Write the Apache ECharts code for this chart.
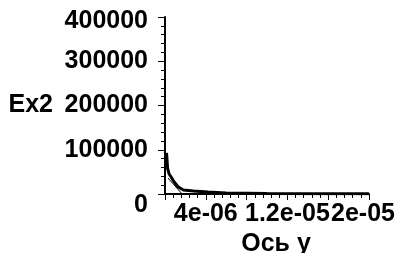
<!DOCTYPE html>
<html>
<head>
<meta charset="utf-8">
<script src="https://cdn.jsdelivr.net/npm/echarts@6/dist/echarts.min.js"></script>
<style>
  html, body { margin: 0; padding: 0; background: #fff; }
  #main { width: 404px; height: 253px; }
</style>
</head>
<body>
<div id="main"></div>
<script>
// кривая Ex2 по оси y
var xVals = [0.15e-6, 0.2e-6, 0.25e-6, 0.4e-6, 0.6e-6, 0.9e-6, 1.3e-6, 1.8e-6, 2.8e-6, 4.2e-6, 6e-6, 1e-5, 1.5e-5, 2e-5];
var ex2Vals = [92700, 76800, 58700, 45200, 38400, 27100, 15800, 9000, 6800, 4500, 2300, 1100, 700, 450];
// тонкая линия у начала
var thinX = [0.3e-6, 1.6e-6];
var thinY = [36000, 2000];

var xTickLabels = ['4e-06', '1.2e-05', '2e-05'];
var yTickLabels = ['0', '100000', '200000', '300000', '400000'];

var font = { fontFamily: 'Liberation Sans', fontWeight: 'bold', fontSize: 25, color: '#000' };

function pairs(xs, ys) {
  return xs.map(function (x, i) { return [x, ys[i]]; });
}

function fmtX(v) {
  for (var i = 0; i < xTickLabels.length; i++) {
    if (Math.abs(Number(xTickLabels[i]) - v) < 1e-9) {
      if (i === xTickLabels.length - 1) return '{last|' + xTickLabels[i] + '}';
      return xTickLabels[i];
    }
  }
  return '';
}

function fmtY(v) {
  var s = String(v);
  if (yTickLabels.indexOf(s) < 0) return '';
  if (s === '0') return '{zero|0}';
  if (s === '400000') return '{top|400000}';
  return s;
}

var chart = echarts.init(document.getElementById('main'), null, { renderer: 'canvas' });
chart.setOption({
  animation: false,
  backgroundColor: '#fff',
  grid: { left: 165, right: 35, top: 17, bottom: 59, containLabel: false, outerBoundsMode: 'none' },
  xAxis: {
    type: 'value', min: 0, max: 2e-5, interval: 4e-6,
    name: 'Ось y', nameLocation: 'middle', nameGap: 34,
    nameTextStyle: Object.assign({ padding: [0, 0, 0, 18] }, font),
    axisLine: { lineStyle: { color: '#000', width: 2 } },
    axisTick: { show: true, length: 6, lineStyle: { color: '#000', width: 1 } },
    minorTick: { show: true, splitNumber: 5, length: 4, lineStyle: { color: '#000', width: 1 } },
    splitLine: { show: false },
    axisLabel: Object.assign({
      margin: 8, formatter: fmtX, showMinLabel: true, showMaxLabel: true, hideOverlap: false,
      rich: { last: Object.assign({ padding: [0, 12, 0, 0] }, font) }
    }, font)
  },
  yAxis: {
    type: 'value', min: 0, max: 400000, interval: 100000,
    name: 'Ex2', nameLocation: 'middle', nameRotate: 0, nameGap: 112,
    nameTextStyle: font,
    axisLine: { show: true, lineStyle: { color: '#000', width: 2 } },
    axisTick: { show: true, length: 7, lineStyle: { color: '#000', width: 1 } },
    minorTick: { show: true, splitNumber: 5, length: 4, lineStyle: { color: '#000', width: 1 } },
    splitLine: { show: false },
    axisLabel: Object.assign({
      margin: 17, formatter: fmtY,
      rich: {
        zero: Object.assign({ padding: [22, 0, 0, 0] }, font),
        top: Object.assign({ padding: [8, 0, 0, 0] }, font)
      }
    }, font)
  },
  series: [
    {
      type: 'line', data: pairs(xVals, ex2Vals), showSymbol: false,
      lineStyle: { color: '#000', width: 3 }
    },
    {
      type: 'line', data: pairs(thinX, thinY), showSymbol: false,
      lineStyle: { color: '#000', width: 1 }
    }
  ]
});
</script>
</body>
</html>
